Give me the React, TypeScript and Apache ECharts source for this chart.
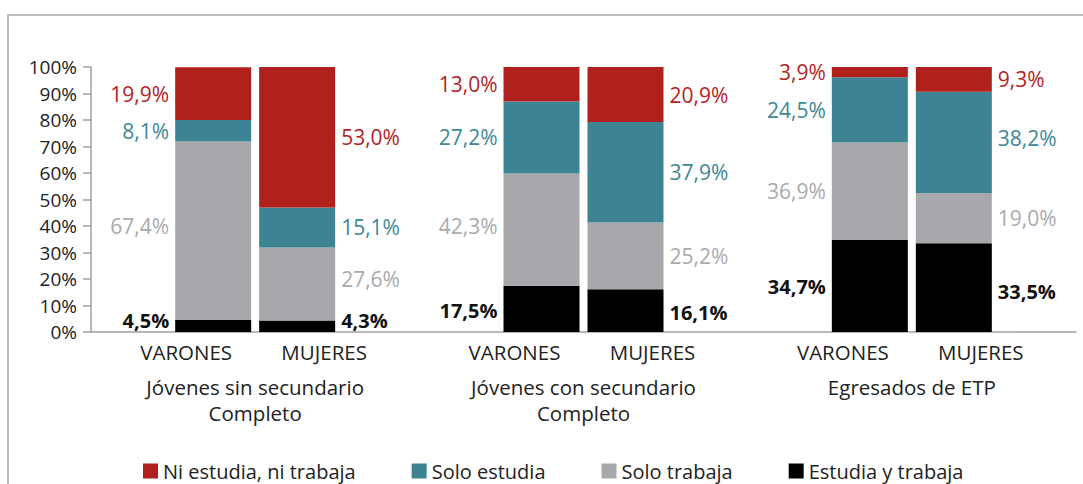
import React, { useEffect, useRef } from 'react';
import * as echarts from 'echarts';

const groups = ['Jóvenes sin secundario\nCompleto', 'Jóvenes con secundario\nCompleto', 'Egresados de ETP'];
const sexes = ['VARONES', 'MUJERES'];
const seriesNames = ['Estudia y trabaja', 'Solo trabaja', 'Solo estudia', 'Ni estudia, ni trabaja'];
const legendOrder = ['Ni estudia, ni trabaja', 'Solo estudia', 'Solo trabaja', 'Estudia y trabaja'];

const varonesEstudiaTrabaja = [4.5, 17.5, 34.7];
const varonesSoloTrabaja = [67.4, 42.3, 36.9];
const varonesSoloEstudia = [8.1, 27.2, 24.5];
const varonesNiNi = [19.9, 13.0, 3.9];

const mujeresEstudiaTrabaja = [4.3, 16.1, 33.5];
const mujeresSoloTrabaja = [27.6, 25.2, 19.0];
const mujeresSoloEstudia = [15.1, 37.9, 38.2];
const mujeresNiNi = [53.0, 20.9, 9.3];

const barColors = ['#000000', '#A7A8AB', '#3C8494', '#B0201C'];
const labelColors = ['#111111', '#A9AAAD', '#3D8797', '#B3231F'];
const labelWeights = ['bold', 'normal', 'normal', 'normal'];
const labelSizes = [20, 21, 21, 21];

// vertical nudges of individual value labels (px), [series][group]
const varonesLabelNudge = [[-6, 2, 0], [-5, -4, 0], [0, 0, 0], [0, 0, 0]];
const mujeresLabelNudge = [[-6, 2, 4], [-5, 0, 0], [0, 0, -4], [0, 0, 0]];

const FONT = '"Open Sans", "Noto Sans", sans-serif';

const fmt = (v: number) => v.toFixed(1).replace('.', ',') + '%';

export default function App() {
  const ref = useRef<HTMLDivElement>(null);
  useEffect(() => {
    document.body.style.margin = '0';
    if (!ref.current) return;
    const chart = echarts.init(ref.current, undefined, { renderer: 'svg' });
    const varones = [varonesEstudiaTrabaja, varonesSoloTrabaja, varonesSoloEstudia, varonesNiNi];
    const mujeres = [mujeresEstudiaTrabaja, mujeresSoloTrabaja, mujeresSoloEstudia, mujeresNiNi];
    const mk = (data: number[], i: number, stack: string, pos: 'left' | 'right', nudge: number[]) => ({
      type: 'bar',
      name: seriesNames[i],
      stack,
      data: data.map((v, j) => ({ value: v, label: { offset: [0, nudge[j]] } })),
      barWidth: 76,
      barGap: '10.5%',
      itemStyle: { color: barColors[i] },
      label: {
        show: true,
        position: pos,
        distance: 6,
        formatter: (p: any) => fmt(p.value),
        color: labelColors[i],
        fontSize: labelSizes[i],
        fontFamily: FONT,
        fontWeight: labelWeights[i],
      },
    });
    const series: any[] = [
      ...varones.map((d, i) => mk(d, i, 'V', 'left', varonesLabelNudge[i])),
      ...mujeres.map((d, i) => mk(d, i, 'M', 'right', mujeresLabelNudge[i])),
    ];
    chart.setOption({
      animation: false,
      textStyle: { fontFamily: FONT },
      graphic: [
        {
          type: 'rect',
          shape: { x: 8, y: 15, width: 1100, height: 500 },
          style: { fill: 'none', stroke: '#A6A6A6', lineWidth: 1.5 },
          silent: true,
        },
      ],
      grid: { left: 91, right: 7, top: 67, bottom: 152, containLabel: false },
      legend: {
        data: legendOrder,
        left: 138,
        top: 456,
        icon: 'rect',
        itemWidth: 15,
        itemHeight: 15,
        itemGap: 56,
        textStyle: { fontSize: 20, color: '#222', fontFamily: FONT },
      },
      xAxis: {
        type: 'category',
        data: groups,
        axisLine: { lineStyle: { color: '#A0A0A0', width: 1.5 } },
        axisTick: { length: 9, lineStyle: { color: '#A0A0A0', width: 1.5 } },
        axisLabel: {
          margin: 7,
          interval: 0,
          formatter: (v: string) =>
            `{v|${sexes[0]}}{m|${sexes[1]}}\n{sp| }\n` + v.split('\n').map((s) => `{g|${s}}`).join('\n'),
          rich: {
            v: { width: 138, align: 'center', fontSize: 20.5, lineHeight: 26, color: '#222', fontFamily: FONT },
            m: { width: 138, align: 'center', fontSize: 20.5, lineHeight: 26, color: '#222', fontFamily: FONT },
            sp: { fontSize: 2, lineHeight: 9 },
            g: { align: 'center', fontSize: 20.5, lineHeight: 26, color: '#222', fontFamily: FONT },
          },
        },
      },
      yAxis: {
        type: 'value',
        min: 0,
        max: 100,
        interval: 10,
        splitLine: { show: false },
        axisLine: { show: true, lineStyle: { color: '#A0A0A0', width: 1.5 } },
        axisTick: { show: true, length: 8, lineStyle: { color: '#A0A0A0', width: 1.5 } },
        axisLabel: { formatter: '{value}%', fontSize: 19, color: '#222', margin: 14, fontFamily: FONT },
      },
      series,
    });
    return () => chart.dispose();
  }, []);
  return <div ref={ref} style={{ width: 1083, height: 484 }} />;
}
